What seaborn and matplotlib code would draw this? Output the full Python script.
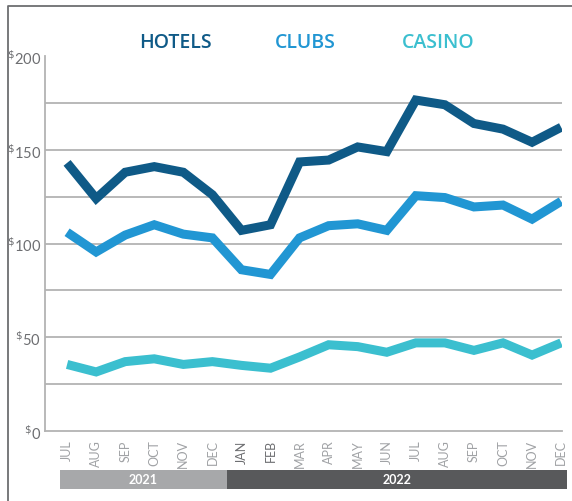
import pandas as pd
import seaborn as sns
import matplotlib.pyplot as plt
import matplotlib.transforms as mtransforms
from matplotlib.patches import Rectangle
from matplotlib.lines import Line2D

# Monthly values, Jul 2021 - Dec 2022
months = ['JUL', 'AUG', 'SEP', 'OCT', 'NOV', 'DEC',
          'JAN', 'FEB', 'MAR', 'APR', 'MAY', 'JUN',
          'JUL', 'AUG', 'SEP', 'OCT', 'NOV', 'DEC']
hotels = [143, 124, 138, 141, 138, 126, 107, 110, 143.5, 144.5, 151.5, 149,
          176.5, 174, 164, 161, 154, 162]
clubs = [106, 95.5, 104.5, 110, 105, 103, 86, 83.5, 103, 109.5, 110.5, 107,
         125.5, 124.5, 119.5, 120.5, 113, 122.5]
casino = [35.5, 31.5, 37, 38.5, 35.5, 37, 35, 33.5, 39.5, 46, 45, 42,
          47, 47, 43, 47, 40.5, 47]
series = ['HOTELS', 'CLUBS', 'CASINO']
colors = ['#0f5a87', '#2196d3', '#3bbfcf']
years = ['2021', '2022']
year_span = [(-0.24, 5.5), (5.5, 17.2)]
year_colors = ['#a7a8aa', '#58595b']
yticks = [0, 50, 100, 150, 200]

df = pd.DataFrame({'idx': list(range(len(months))) * 3,
                   'value': hotels + clubs + casino,
                   'series': [s for s in series for _ in months]})

sns.set_style('white')
plt.rcParams['font.family'] = ['Lato', 'DejaVu Sans']

fig = plt.figure(figsize=(5.72, 5.02), dpi=100)
ax = fig.add_axes([45 / 572, 70 / 502, 517 / 572, 375 / 502])

for y in [25, 50, 75, 100, 125, 150, 175]:
    ax.axhline(y, color='#b3b3b3', lw=1.3, zorder=1)

sns.lineplot(data=df, x='idx', y='value', hue='series', hue_order=series,
             palette=colors, lw=6.5, ax=ax, legend=False, zorder=3)
for ln in ax.lines:
    ln.set_solid_joinstyle('miter')
    ln.set_solid_capstyle('butt')

ax.set_xlim(-0.76, 17.03)
ax.set_ylim(0, 200)
ax.set_xlabel('')
ax.set_ylabel('')

ax.set_xticks(range(len(months)))
ax.set_xticklabels(months, rotation=90, fontsize=9, color='#a0a2a5')
for i, lab in enumerate(ax.get_xticklabels()):
    if i in (6, 7):
        lab.set_color('#6d6e71')
ax.set_yticks(yticks)
ax.set_yticklabels([r'$^{\$}$' + str(v) for v in yticks], fontsize=10.5,
                   color='#6d6e71')
ax.tick_params(axis='x', direction='in', length=8, color='#b3b3b3', width=1.2, pad=6)
ax.tick_params(axis='y', direction='in', length=8, color='#b3b3b3', width=1.2, pad=3)

for side in ['top', 'right']:
    ax.spines[side].set_visible(False)
for side in ['left', 'bottom']:
    ax.spines[side].set_color('#b3b3b3')
    ax.spines[side].set_linewidth(1.3)

# series titles
for name, col, xpos in zip(series, colors, [175, 305, 438]):
    fig.text(xpos / 572, 1 - 43 / 502, name, color=col, fontsize=14,
             fontweight='semibold', family='Open Sans', ha='center', va='center')

# year bars under the month labels
trans = mtransforms.blended_transform_factory(ax.transData, fig.transFigure)
for yr, (x0, x1), col in zip(years, year_span, year_colors):
    ax.add_patch(Rectangle((x0, 12 / 502), x1 - x0, 19 / 502, transform=trans,
                           color=col, clip_on=False, lw=0, zorder=0))
    ax.text((x0 + x1) / 2, 21.5 / 502, yr, transform=trans, color='white',
            fontsize=9, fontweight='bold', ha='center', va='center')

# outer frame
fig.add_artist(Line2D([8 / 572, 8 / 572, 1], [0, 1 - 7 / 502, 1 - 7 / 502],
                      color='#6d6e71', lw=1.3, transform=fig.transFigure))

fig.savefig('out.png', dpi=100)
